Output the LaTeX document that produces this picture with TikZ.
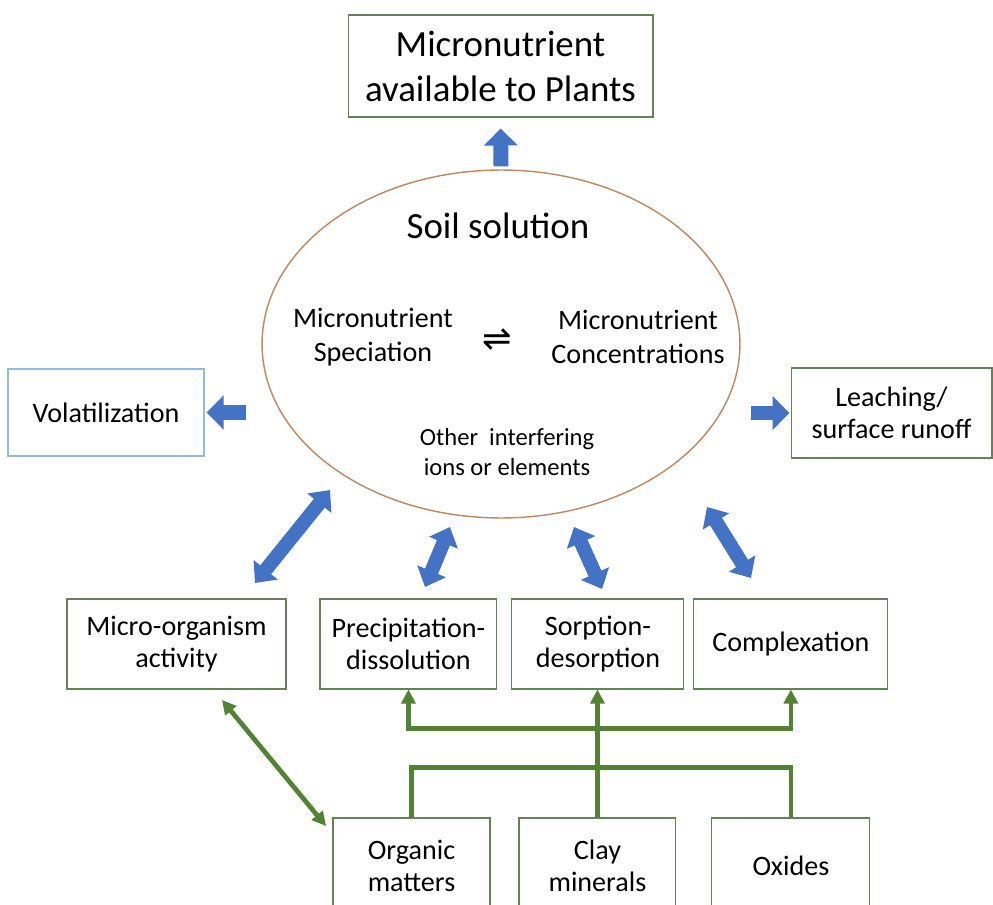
\documentclass[tikz,border=0pt]{standalone}
\usepackage{fontspec}
\setmainfont{Carlito}
\newfontfamily\symfont{DejaVu Sans}
\usetikzlibrary{shapes.geometric,arrows.meta,positioning}
\definecolor{arrowblue}{RGB}{68,114,196}
\definecolor{linegreen}{RGB}{84,130,53}
\definecolor{boxgreen}{RGB}{100,130,85}
\definecolor{skyline}{RGB}{150,185,225}
\definecolor{soilbrown}{RGB}{190,135,95}

\begin{document}
\begin{tikzpicture}[x=0.02cm,y=-0.02cm,on grid,
    box/.style={draw=boxgreen,line width=0.6pt,align=center,inner sep=0pt,
      font=\fontsize{16}{18.5}\selectfont,minimum height=1.8cm},
    blockarrow/.style={arrowblue,line width=8.5pt,-{Triangle[length=0.34cm,width=0.66cm]}},
    twoway/.style={arrowblue,line width=8pt,
      {Triangle[length=0.34cm,width=0.6cm]}-{Triangle[length=0.34cm,width=0.6cm]}},
    feed/.style={linegreen,line width=2.7pt},
    gtip/.style={-{Triangle[length=0.28cm,width=0.28cm]}},
    gboth/.style={{Triangle[length=0.28cm,width=0.28cm]}-{Triangle[length=0.28cm,width=0.28cm]}}]
  \useasboundingbox (0,0) rectangle (993,905);
  \clip (0,0) rectangle (993,905);

  % top and the soil solution
  \node[box,minimum width=6.1cm,minimum height=2.04cm,font=\fontsize{21}{25.6}\selectfont]
    (plants) at (500.5,66) {Micronutrient\\available to Plants};
  \node[ellipse,draw=soilbrown,line width=0.8pt,minimum width=9.56cm,minimum height=6.96cm,inner sep=0pt]
    (soil) at (501,344) {};
  \node[font=\fontsize{21}{25}\selectfont] (title) at (498,226) {Soil solution};
  \node[align=center,inner sep=0pt,font=\fontsize{16}{19.4}\selectfont] (spec) at (373,337) {Micronutrient\\Speciation};
  \node[align=center,inner sep=0pt,font=\fontsize{16}{19.4}\selectfont] (conc) at (638,337) {Micronutrient\\Concentrations};
  \node[inner sep=0pt,font=\symfont\fontsize{20}{20}\selectfont] (eq) at (497,340) {⇌};
  \node[align=center,font=\fontsize{14}{17}\selectfont] (other) at (507,452) {Other\ \ interfering\\ions or elements};

  % sides
  \node[box,draw=skyline,minimum width=3.92cm,minimum height=1.74cm] (vol) at (106,412.5) {Volatilization};
  \node[box,minimum width=4.02cm] (leach) at (891.5,413) {Leaching/\\surface runoff};

  % processes
  \node[box,minimum width=4.38cm] (micro) at (176.5,644) {Micro-organism\\activity};
  \node[box,minimum width=3.54cm] (prec) [right=4.64cm of micro] {Precipitation-\\dissolution};
  \node[box,minimum width=3.44cm] (sorp) [right=3.79cm of prec] {Sorption-\\desorption};
  \node[box,minimum width=3.88cm] (comp) [right=3.86cm of sorp] {Complexation};

  % soil constituents
  \node[box,minimum width=3.14cm,minimum height=1.92cm] (org) at (411.5,866) {Organic\\matters};
  \node[box,minimum width=3.14cm,minimum height=1.92cm] (clay) [right=3.72cm of org] {Clay\\minerals};
  \node[box,minimum width=3.16cm,minimum height=1.92cm] (oxi) [right=3.87cm of clay] {Oxides};

  \coordinate (mo-lo) at (255,583);  \coordinate (mo-hi) at (330,490);
  \coordinate (pd-lo) at (425,587);  \coordinate (pd-hi) at (450,527);
  \coordinate (sd-lo) at (602,589);  \coordinate (sd-hi) at (574,527);
  \coordinate (cx-lo) at (751,578);  \coordinate (cx-hi) at (707,507);
  \coordinate (link-up) at (222,700); \coordinate (link-down) at (326,826);

  % blue arrows
  \draw[blockarrow,shorten <=0.06cm,shorten >=0.22cm] (soil.north) -- (plants.south);
  \draw[blockarrow,shorten <=0.3cm,shorten >=0.04cm] (soil.west |- vol.east) -- (vol.east);
  \draw[blockarrow,shorten <=0.2cm,shorten >=0.02cm] (soil.east |- leach.west) -- (leach.west);
  \draw[twoway] (mo-lo) -- (mo-hi);
  \draw[twoway] (pd-lo) -- (pd-hi);
  \draw[twoway] (sd-lo) -- (sd-hi);
  \draw[twoway] (cx-lo) -- (cx-hi);

  % green links
  \draw[feed] (org.north) -- ++(0,-50) -| (oxi.north);
  \draw[feed,gtip] (clay.north) -- (clay.north |- sorp.south);
  \draw[feed,gboth] (prec.south) -- ++(0,39) -| (comp.south);
  \draw[feed,gboth] (link-up) -- (link-down);
\end{tikzpicture}
\end{document}
